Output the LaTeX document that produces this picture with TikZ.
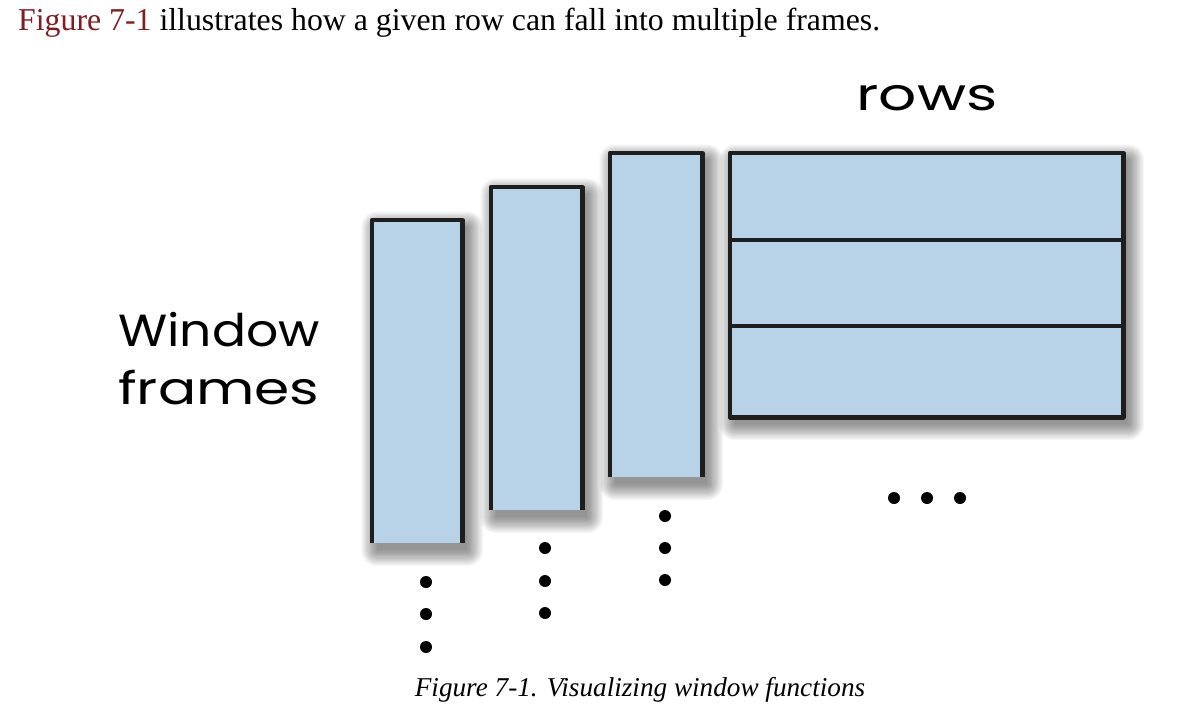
\documentclass[tikz,border=0pt]{standalone}
\usepackage{fontspec}
\setmainfont{Liberation Serif}
\newfontfamily\handfont{Poppins}
\definecolor{boxfill}{RGB}{184,210,232}
\definecolor{boxline}{RGB}{30,30,30}
\definecolor{linkred}{RGB}{128,28,34}
\tikzset{
  edge/.style={draw=boxline, line width=4.2pt, line join=round},
  dotnode/.style={circle, fill=black, inner sep=0pt, minimum size=12pt},
  hand/.style={font=\handfont\fontsize{45}{50}\selectfont, inner sep=0pt},
  geom/.style={inner sep=0pt, anchor=north west},
  shadowlayer/.style={fill=black, fill opacity=0.035, draw=none},
}
% soft drop shadow behind a named node
\newcommand{\softshadow}[1]{%
  \foreach \i in {0,1.2,...,16}{
    \fill[shadowlayer, rounded corners=\i pt]
      ([xshift={5pt-\i pt}, yshift={-7pt+\i pt}]#1.north west) rectangle
      ([xshift={5pt+\i pt}, yshift={-7pt-\i pt}]#1.south east);
  }}
\begin{document}
\begin{tikzpicture}[x=1pt,y=-1pt]
\useasboundingbox[fill=white] (0,0) rectangle (1178,718);
% intro text
\node[anchor=base west, inner sep=0pt, font=\fontsize{31.8}{36}\selectfont] (intro) at (18,30)
  {\textcolor{linkred}{Figure 7-1} illustrates how a given row can fall into multiple frames.};
% node geometry (fill drawn after shadows)
\path
  node[geom, minimum width=90pt, minimum height=323pt] (b1) at (372,220) {}
  node[geom, minimum width=91pt, minimum height=323pt] (b2) at (491,187) {}
  node[geom, minimum width=92pt, minimum height=324pt] (b3) at (610,153) {}
  node[geom, minimum width=393pt, minimum height=264pt] (rows) at (730,153) {};
\softshadow{b1}
\softshadow{b2}
\softshadow{b3}
\softshadow{rows}
% window frame columns (open at the bottom)
\foreach \b in {b1,b2,b3}{
  \fill[boxfill] (\b.north west) rectangle (\b.south east);
  \draw[edge] (\b.south west) -- (\b.north west) -- (\b.north east) -- (\b.south east);
}
% rows block
\fill[boxfill] (rows.north west) rectangle (rows.south east);
\coordinate (d1l) at (730,240); \coordinate (d1r) at (1123,240);
\coordinate (d2l) at (730,326); \coordinate (d2r) at (1123,326);
\draw[edge] (rows.north west) rectangle (rows.south east);
\draw[edge] (d1l) -- (d1r);
\draw[edge] (d2l) -- (d2r);
% labels
\node[hand, anchor=base] (rowslabel) at (927,110) {\scalebox{1.33}[1]{rows}};
\node[hand, anchor=base west] (wlabel) at (118,346) {\scalebox{1.12}[1]{Window}};
\node[hand, anchor=base west] (flabel) at (118,404) {\scalebox{1.26}[1]{frames}};
% dots
\node[dotnode] (p11) at (426,582) {};
\node[dotnode] (p12) at (426,614) {};
\node[dotnode] (p13) at (426,647) {};
\node[dotnode] (p21) at (545,548) {};
\node[dotnode] (p22) at (545,581) {};
\node[dotnode] (p23) at (545,613) {};
\node[dotnode] (p31) at (665,516) {};
\node[dotnode] (p32) at (665,548) {};
\node[dotnode] (p33) at (665,580) {};
\node[dotnode] (h1) at (894,498) {};
\node[dotnode] (h2) at (927,498) {};
\node[dotnode] (h3) at (960,498) {};
% caption
\node[anchor=base, inner sep=0pt, font=\itshape\fontsize{27.2}{31}\selectfont] (caption) at (640,696)
  {Figure 7-1. Visualizing window functions};
\end{tikzpicture}
\end{document}
